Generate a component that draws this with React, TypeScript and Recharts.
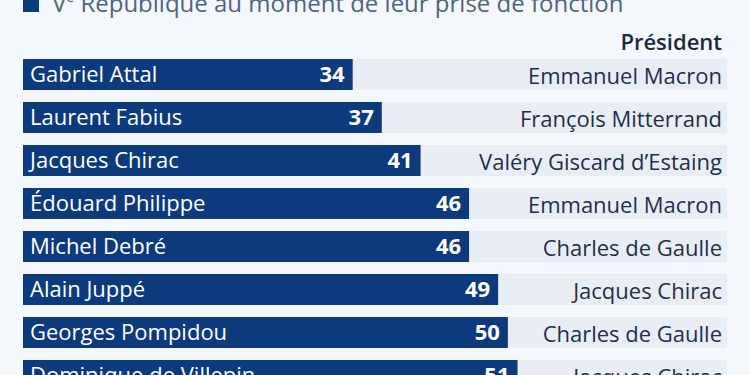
import { BarChart, Bar, XAxis, YAxis, LabelList } from "recharts";

const NAMES = [
  "Gabriel Attal",
  "Laurent Fabius",
  "Jacques Chirac",
  "Édouard Philippe",
  "Michel Debré",
  "Alain Juppé",
  "Georges Pompidou",
  "Dominique de Villepin",
];
const AGES = [34, 37, 41, 46, 46, 49, 50, 51];
const PRESIDENTS = [
  "Emmanuel Macron",
  "François Mitterrand",
  "Valéry Giscard d’Estaing",
  "Emmanuel Macron",
  "Charles de Gaulle",
  "Jacques Chirac",
  "Charles de Gaulle",
  "Jacques Chirac",
];

const data = NAMES.map((name, i) => ({
  name,
  age: AGES[i],
  president: PRESIDENTS[i],
}));

const FONT = "'Open Sans', sans-serif";
const BLUE = "#0c3a7c";

const PresidentLabel = (props: any) => {
  const { y, height, value } = props;
  return (
    <text
      x={722}
      y={y + height / 2}
      textAnchor="end"
      dominantBaseline="central"
      fontFamily={FONT}
      fontSize={22}
      fill="#1f304b"
    >
      {value}
    </text>
  );
};

export default function App() {
  return (
    <div
      style={{
        position: "fixed",
        left: 0,
        top: 0,
        width: 750,
        height: 375,
        overflow: "hidden",
        background: "#f4f7fb",
      }}
    >
      <svg
        width={750}
        height={60}
        style={{ position: "absolute", left: 0, top: 0 }}
      >
        <rect x={23} y={-4} width={16} height={16} fill={BLUE} />
        <text x={52} y={12} fontFamily={FONT} fontSize={24} fill="#4f6480">
          V<tspan fontSize={14} dy={-10}>e</tspan>
          <tspan dy={10}> République au moment de leur prise de fonction</tspan>
        </text>
        <text
          x={722}
          y={50}
          textAnchor="end"
          fontFamily={FONT}
          fontSize={22}
          fontWeight={600}
          fill="#1b2a42"
        >
          Président
        </text>
      </svg>
      <div style={{ position: "absolute", left: 0, top: 0 }}>
        <BarChart
          width={750}
          height={397}
          data={data}
          layout="vertical"
          margin={{ top: 53, right: 23, bottom: 0, left: 23 }}
          barSize={31}
        >
          <XAxis type="number" domain={[0, 72.6]} hide />
          <YAxis type="category" dataKey="name" hide />
          <Bar
            dataKey="age"
            fill={BLUE}
            background={{ fill: "#e9eef5" }}
            isAnimationActive={false}
          >
            <LabelList
              dataKey="name"
              position="insideLeft"
              offset={7}
              fill="#ffffff"
              fontFamily={FONT}
              fontSize={22}
            />
            <LabelList
              dataKey="age"
              position="insideRight"
              offset={8}
              fill="#ffffff"
              fontFamily={FONT}
              fontSize={22}
              fontWeight={700}
            />
            <LabelList dataKey="president" content={PresidentLabel} />
          </Bar>
        </BarChart>
      </div>
    </div>
  );
}
